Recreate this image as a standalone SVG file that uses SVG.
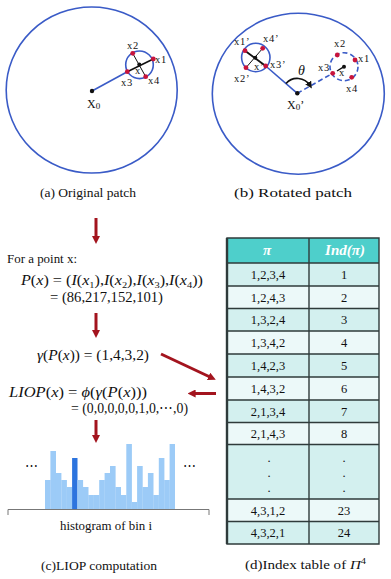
<svg xmlns="http://www.w3.org/2000/svg" width="391" height="579" viewBox="0 0 391 579">
<style>
.t{font-family:"Liberation Serif","Times New Roman",serif;fill:#111}
.lbl{font-size:10.5px;letter-spacing:0.8px}
.cap{font-size:13px}
.math{font-size:14px}
.i{font-style:italic}
.cell{font-size:12.5px;text-anchor:middle}
.hd{font-family:"Liberation Serif",serif;font-size:15px;font-weight:bold;font-style:italic;fill:#fff;text-anchor:middle}
.big{fill:none;stroke:#3a5bc7;stroke-width:1.6}
.bl{stroke:#3a5bc7;stroke-width:1.6;fill:none}
.dash{stroke:#3a5bc7;stroke-width:1.6;fill:none;stroke-dasharray:5,3}
.pt{fill:#c8143c}
.arr{stroke:#a3141e;stroke-width:3;fill:none;marker-end:url(#ah)}
.dk{fill:#d3f0ef}
.lt{fill:#ecf9f9}
.grid{stroke:#2f3b3b;stroke-width:1.4;fill:none}
.bar{fill:#9ccbf7}
</style>
<defs>
<marker id="ah" viewBox="0 0 10 10" refX="2" refY="5" markerWidth="8" markerHeight="8" markerUnits="userSpaceOnUse" orient="auto">
<path d="M0,0 L10,5 L0,10 z" fill="#a3141e"/>
</marker>
<marker id="th" viewBox="0 0 10 10" refX="5" refY="5" markerWidth="7" markerHeight="7" markerUnits="userSpaceOnUse" orient="auto">
<path d="M0,0 L10,5 L0,10 z" fill="#111"/>
</marker>
</defs>

<!-- (a) Original patch -->
<g id="patch-a">
<ellipse class="big" cx="91.7" cy="90" rx="85.5" ry="83"/>
<line class="bl" x1="92" y1="91" x2="127.3" y2="71.7"/>
<circle class="big" cx="139.5" cy="64.8" r="13.8"/>
<line x1="127.3" y1="71.7" x2="153.3" y2="59" stroke="#111" stroke-width="1.6"/>
<line x1="132.7" y1="53.3" x2="145.7" y2="76.7" stroke="#111" stroke-width="1"/>
<circle cx="92" cy="91" r="2.2" fill="#111"/>
<circle cx="139.3" cy="64.5" r="2" fill="#111"/>
<circle class="pt" cx="132.7" cy="53.3" r="2.4"/>
<circle class="pt" cx="153.3" cy="59" r="2.4"/>
<circle class="pt" cx="127.3" cy="71.7" r="2.4"/>
<circle class="pt" cx="145.7" cy="76.7" r="2.4"/>
<text class="t lbl" x="127" y="49">x2</text>
<text class="t lbl" x="155" y="63">x1</text>
<text class="t lbl" x="121" y="86">x3</text>
<text class="t lbl" x="148" y="84">x4</text>
<text class="t lbl" x="135" y="74">x</text>
<text class="t" x="87" y="108" font-size="12">X<tspan font-size="9" dy="1">0</tspan></text>
<text class="t cap" x="40" y="197" textLength="96" lengthAdjust="spacingAndGlyphs">(a) Original patch</text>
</g>

<!-- (b) Rotated patch -->
<g id="patch-b">
<ellipse class="big" cx="298.3" cy="93.7" rx="86" ry="80.5"/>
<line class="bl" x1="265.7" y1="66" x2="297.3" y2="93.3"/>
<line class="dash" x1="297.3" y1="93.3" x2="332.7" y2="73.3"/>
<circle class="big" cx="255.8" cy="57.5" r="14.2"/>
<line x1="245" y1="50.7" x2="265.7" y2="66" stroke="#111" stroke-width="1.8"/>
<line x1="262.7" y1="48.3" x2="246" y2="67.7" stroke="#111" stroke-width="1"/>
<circle class="dash" cx="344" cy="66.7" r="14"/>
<line x1="344" y1="66.7" x2="337" y2="71" stroke="#111" stroke-width="1.4"/>
<circle cx="297.3" cy="93.3" r="2.2" fill="#111"/>
<circle cx="255.3" cy="57.8" r="2" fill="#111"/>
<circle cx="344" cy="66.7" r="2" fill="#111"/>
<circle class="pt" cx="245" cy="50.7" r="2.4"/>
<circle class="pt" cx="262.7" cy="48.3" r="2.4"/>
<circle class="pt" cx="246" cy="67.7" r="2.4"/>
<circle class="pt" cx="265.7" cy="66" r="2.4"/>
<circle class="pt" cx="337.3" cy="55" r="2.4"/>
<circle class="pt" cx="355" cy="60" r="2.4"/>
<circle class="pt" cx="332.7" cy="73.3" r="2.4"/>
<circle class="pt" cx="351.7" cy="77.3" r="2.4"/>
<path d="M286,83.5 A15,15 0 0 1 310,85.5" fill="none" stroke="#111" stroke-width="1.6" marker-end="url(#th)"/>
<text class="t lbl" x="234" y="45">x1’</text>
<text class="t lbl" x="263" y="42">x4’</text>
<text class="t lbl" x="234" y="82">x2’</text>
<text class="t lbl" x="254" y="70">x’</text>
<text class="t lbl" x="270" y="68">x3’</text>
<text class="t lbl" x="334" y="47">x2</text>
<text class="t lbl" x="358" y="62">x1</text>
<text class="t lbl" x="318" y="71">x3</text>
<text class="t lbl" x="346" y="92">x4</text>
<text class="t lbl" x="339" y="76">x</text>
<text class="t i" x="298" y="75" font-size="14">θ</text>
<text class="t" x="287" y="109" font-size="12">X<tspan font-size="9" dy="1">0</tspan><tspan dy="-1">’</tspan></text>
<text class="t cap" x="234" y="197" textLength="118" lengthAdjust="spacingAndGlyphs">(b) Rotated patch</text>
</g>

<!-- (c) LIOP computation -->
<g id="liop">
<text class="t" x="7" y="263" font-size="13.5" textLength="70" lengthAdjust="spacingAndGlyphs">For a point x:</text>
<text class="t math" x="21" y="285" textLength="182" lengthAdjust="spacingAndGlyphs"><tspan class="i">P</tspan>(<tspan class="i">x</tspan>) = (<tspan class="i">I</tspan>(<tspan class="i">x</tspan><tspan font-size="9" dy="3">1</tspan><tspan dy="-3">),</tspan><tspan class="i">I</tspan>(<tspan class="i">x</tspan><tspan font-size="9" dy="3">2</tspan><tspan dy="-3">),</tspan><tspan class="i">I</tspan>(<tspan class="i">x</tspan><tspan font-size="9" dy="3">3</tspan><tspan dy="-3">),</tspan><tspan class="i">I</tspan>(<tspan class="i">x</tspan><tspan font-size="9" dy="3">4</tspan><tspan dy="-3">))</tspan></text>
<text class="t math" x="50" y="302" textLength="113" lengthAdjust="spacingAndGlyphs">= (86,217,152,101)</text>
<text class="t math" x="37" y="360" textLength="112" lengthAdjust="spacingAndGlyphs"><tspan class="i">γ</tspan>(<tspan class="i">P</tspan>(<tspan class="i">x</tspan>)) = (1,4,3,2)</text>
<text class="t math" x="9" y="397" textLength="138" lengthAdjust="spacingAndGlyphs"><tspan class="i">LIOP</tspan>(<tspan class="i">x</tspan>) = <tspan class="i">ϕ</tspan>(<tspan class="i">γ</tspan>(<tspan class="i">P</tspan>(<tspan class="i">x</tspan>)))</text>
<text class="t math" x="71" y="413" textLength="117" lengthAdjust="spacingAndGlyphs">= (0,0,0,0,0,1,0,⋯,0)</text>
</g>

<g id="histogram">
<rect class="bar" x="45" y="480" width="5.6" height="29"/>
<rect class="bar" x="50.4" y="451" width="5.6" height="58"/>
<rect class="bar" x="55.8" y="473" width="5.6" height="36"/>
<rect class="bar" x="61.3" y="480" width="5.6" height="29"/>
<rect class="bar" x="66.7" y="487" width="5.6" height="22"/>
<rect x="72.1" y="458" width="5.4" height="51" fill="#2d74de"/>
<rect class="bar" x="77.5" y="480" width="5.6" height="29"/>
<rect class="bar" x="82.9" y="487" width="5.6" height="22"/>
<rect class="bar" x="88.3" y="495" width="5.6" height="14"/>
<rect class="bar" x="93.8" y="495" width="5.6" height="14"/>
<rect class="bar" x="99.2" y="480" width="5.6" height="29"/>
<rect class="bar" x="104.6" y="473" width="5.6" height="36"/>
<rect class="bar" x="110" y="466" width="5.6" height="43"/>
<rect class="bar" x="115.4" y="487" width="5.6" height="22"/>
<rect class="bar" x="120.8" y="495" width="5.6" height="14"/>
<rect class="bar" x="126.3" y="444" width="5.6" height="65"/>
<rect class="bar" x="131.7" y="502" width="5.6" height="7"/>
<rect class="bar" x="137.1" y="466" width="5.6" height="43"/>
<rect class="bar" x="142.5" y="487" width="5.6" height="22"/>
<rect class="bar" x="147.9" y="473" width="5.6" height="36"/>
<rect class="bar" x="153.3" y="495" width="5.6" height="14"/>
<rect class="bar" x="158.8" y="458" width="5.6" height="51"/>
<rect class="bar" x="164.2" y="480" width="5.6" height="29"/>
<rect class="bar" x="169.6" y="444" width="5.4" height="65"/>
<path d="M8,515 V509.5 H209 V515" fill="none" stroke="#777" stroke-width="1"/>
<text class="t" x="31" y="470" font-size="13" text-anchor="middle">⋯</text>
<text class="t" x="189" y="470" font-size="13" text-anchor="middle">⋯</text>
<text class="t" x="60" y="530" font-size="13" textLength="92" lengthAdjust="spacingAndGlyphs">histogram of bin i</text>
<text class="t cap" x="41" y="570" textLength="116" lengthAdjust="spacingAndGlyphs">(c)LIOP computation</text>
</g>

<!-- (d) Index table -->
<g id="table">
<rect x="227" y="238" width="152" height="25" fill="#4ecfcb"/>
<rect class="dk" x="227" y="263" width="152" height="23"/>
<rect class="lt" x="227" y="286" width="152" height="22.5"/>
<rect class="dk" x="227" y="308.5" width="152" height="22.5"/>
<rect class="lt" x="227" y="331" width="152" height="23"/>
<rect class="dk" x="227" y="354" width="152" height="23"/>
<rect class="lt" x="227" y="377" width="152" height="23"/>
<rect class="dk" x="227" y="400" width="152" height="22.5"/>
<rect class="lt" x="227" y="422.5" width="152" height="22"/>
<rect class="dk" x="227" y="444.5" width="152" height="54.5"/>
<rect class="lt" x="227" y="499" width="152" height="22.5"/>
<rect class="dk" x="227" y="521.5" width="152" height="22.5"/>
<path class="grid" d="M227,238 H379 V544 H227 Z M309,238 V544 M227,263 H379 M227,286 H379 M227,308.5 H379 M227,331 H379 M227,354 H379 M227,377 H379 M227,400 H379 M227,422.5 H379 M227,444.5 H379 M227,499 H379 M227,521.5 H379"/>
<line x1="227" y1="238" x2="227" y2="544" stroke="#2f3b3b" stroke-width="2.4"/>
<text class="hd" x="267" y="255">π</text>
<text class="hd" x="345" y="255">Ind(π)</text>
<g class="t cell">
<text x="268" y="279">1,2,3,4</text><text x="344" y="279">1</text>
<text x="268" y="301.5">1,2,4,3</text><text x="344" y="301.5">2</text>
<text x="268" y="324">1,3,2,4</text><text x="344" y="324">3</text>
<text x="268" y="347">1,3,4,2</text><text x="344" y="347">4</text>
<text x="268" y="370">1,4,2,3</text><text x="344" y="370">5</text>
<text x="268" y="393">1,4,3,2</text><text x="344" y="393">6</text>
<text x="268" y="415.5">2,1,3,4</text><text x="344" y="415.5">7</text>
<text x="268" y="438">2,1,4,3</text><text x="344" y="438">8</text>
<text x="269" y="462">.</text><text x="344" y="462">.</text>
<text x="269" y="477">.</text><text x="344" y="477">.</text>
<text x="269" y="492">.</text><text x="344" y="492">.</text>
<text x="268" y="514.5">4,3,1,2</text><text x="344" y="514.5">23</text>
<text x="268" y="537">4,3,2,1</text><text x="344" y="537">24</text>
</g>
<text class="t cap" x="245" y="569" textLength="121" lengthAdjust="spacingAndGlyphs">(d)Index table of <tspan class="i">Π</tspan><tspan font-size="9" dy="-5">4</tspan></text>
</g>

<!-- connectors -->
<g id="connectors">
<line class="arr" x1="96" y1="218" x2="96" y2="237.6"/>
<line class="arr" x1="96" y1="313" x2="96" y2="331.6"/>
<line class="arr" x1="96" y1="420" x2="96" y2="436.6"/>
<line class="arr" x1="161" y1="354" x2="210" y2="377"/>
<line class="arr" x1="216" y1="393.5" x2="194" y2="393.5"/>
</g>
</svg>
